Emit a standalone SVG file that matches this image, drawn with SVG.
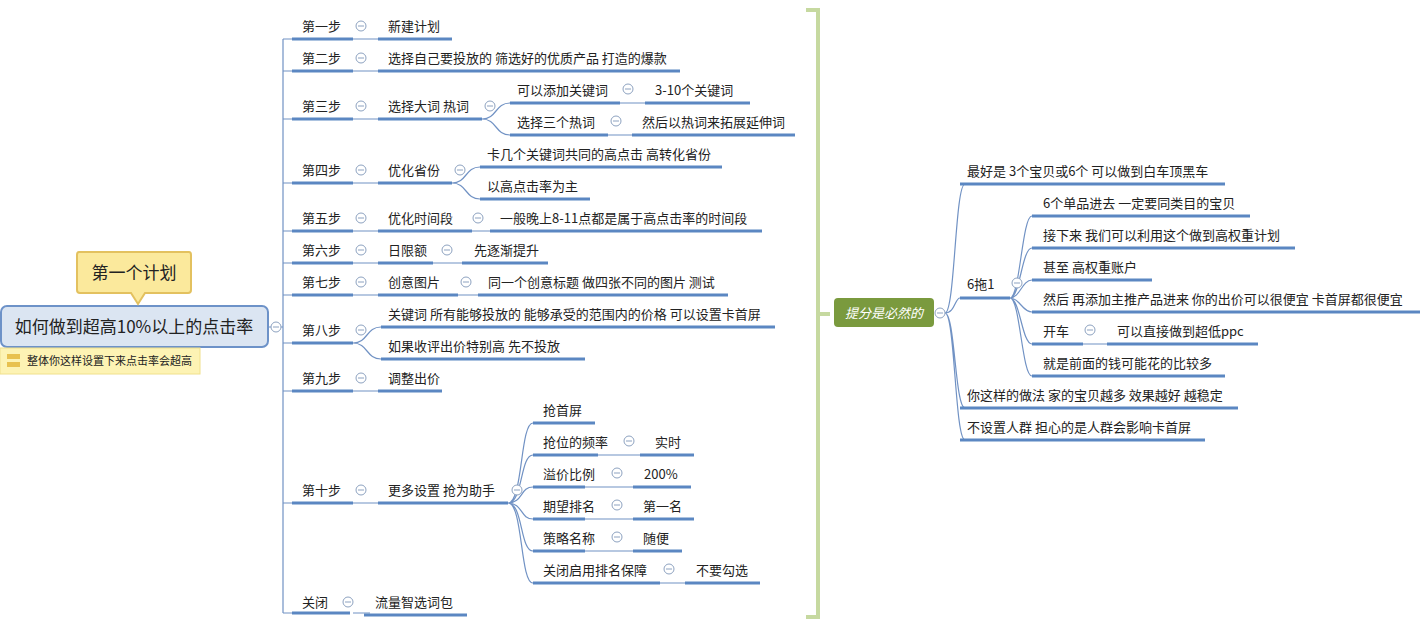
<svg xmlns="http://www.w3.org/2000/svg" width="1427" height="627" viewBox="0 0 1427 627">
<style>
text{font-family:"Noto Sans CJK SC","Noto Sans",sans-serif;font-size:13px;fill:#222}
.u{stroke:#5b87c2;stroke-width:3;fill:none}
.c{stroke:#7192c4;stroke-width:1.2;fill:none}
</style>
<defs>
<g id="col"><circle r="5" cx="0" cy="0" fill="#fff" stroke="#8da2c0" stroke-width="1"/><line x1="-3" y1="0" x2="3" y2="0" stroke="#8da2c0" stroke-width="1"/></g>
</defs>
<rect width="1427" height="627" fill="#fff"/>
<g id="connectors">
<path class="c" d="M283 39V613M269 327H283"/>
<path class="c" d="M283 39H292M283 71H292M283 119H292M283 183H292M283 231H292M283 263H292M283 295H292M283 343H292M283 391H292M283 503H292M283 613H292"/>
<path class="c" d="M353 39H378M353 71H378M353 119H378M353 183H378M353 231H378M353 263H378M353 295H378M353 391H378M353 503H378M353 613H370"/>
<path class="c" d="M482 119C497 119 495 103 510 103M482 119C497 119 495 135 510 135M620 103H645M608 135H632"/>
<path class="c" d="M452 183C467 183 465 167 480 167M452 183C467 183 465 199 480 199M472 231H490M433 263H462M458 295H478"/>
<path class="c" d="M353 343C368 343 366 327 381 327M353 343C368 343 366 359 381 359"/>
<path class="c" d="M508 503C523 503 520 423 533 423M508 503C523 503 520 455 533 455M508 503C523 503 520 487 533 487M508 503C523 503 520 519 533 519M508 503C523 503 520 551 533 551M508 503C523 503 520 583 533 583"/>
<path class="c" d="M598 455H640M585 487H633M585 519H633M585 551H633M660 583H685"/>
<path class="c" d="M945 313C955 313 955 184 965 184M945 313C955 313 955 298 960 298M945 313C955 313 955 408 965 408M945 313C955 313 955 440 965 440"/>
<path class="c" d="M1010 298C1020 298 1022 216 1032 216M1010 298C1020 298 1022 248 1032 248M1010 298C1020 298 1022 280 1032 280M1010 298C1020 298 1022 312 1032 312M1010 298C1020 298 1022 344 1032 344M1010 298C1020 298 1022 376 1032 376M1083 344H1107"/>
</g>
<g id="bracket"><path d="M806 10H818V617H806M818 314H830" stroke="#c6d9a0" stroke-width="4" fill="none"/></g>
<g id="root">
<rect x="1" y="306" width="267" height="41" rx="6" fill="#dbe5f2" stroke="#6d92c8" stroke-width="2"/>
<text x="134" y="333" text-anchor="middle" style="font-size:17px">如何做到超高10%以上的点击率</text>
<use href="#col" x="276" y="327"/>
</g>
<g id="callout">
<path d="M79 252H189Q191 252 191 255V290Q191 293 188 293H145L138 304L131 293H80Q77 293 77 290V255Q77 252 79 252Z" fill="#fbe99c" stroke="#e3c15f" stroke-width="2"/>
<text x="134" y="279" text-anchor="middle" style="font-size:17px">第一个计划</text>
</g>
<g id="note">
<rect x="0" y="348" width="200" height="26" fill="#fdf3b4" stroke="#f0e08c"/>
<rect x="7" y="354" width="13" height="5" fill="#e8c14f"/><rect x="7" y="362" width="13" height="5" fill="#e8c14f"/>
<text x="27" y="365" style="font-size:11px">整体你这样设置下来点击率会超高</text>
</g>
<g id="steps">
<path class="u" d="M292 39H353M292 71H353M292 119H353M292 183H353M292 231H353M292 263H353M292 295H353M292 343H353M292 391H353M292 503H353M292 613H350"/>
<text x="302" y="31">第一步</text><text x="302" y="63">第二步</text><text x="302" y="111">第三步</text><text x="302" y="175">第四步</text><text x="302" y="223">第五步</text><text x="302" y="255">第六步</text><text x="302" y="287">第七步</text><text x="302" y="335">第八步</text><text x="302" y="383">第九步</text><text x="302" y="495">第十步</text><text x="302" y="607">关闭</text>
<use href="#col" x="361" y="26"/><use href="#col" x="361" y="58"/><use href="#col" x="361" y="106"/><use href="#col" x="361" y="170"/><use href="#col" x="361" y="218"/><use href="#col" x="361" y="250"/><use href="#col" x="361" y="282"/><use href="#col" x="361" y="330"/><use href="#col" x="361" y="378"/><use href="#col" x="361" y="490"/><use href="#col" x="348" y="602"/>
</g>
<g id="level2">
<path class="u" d="M378 39H452M378 71H680M378 119H482M378 183H452M378 231H472M378 263H433M378 295H458M381 327H775M381 359H585M378 391H442M378 503H508M364 615H467"/>
<text x="388" y="31">新建计划</text>
<text x="388" y="63">选择自己要投放的 筛选好的优质产品 打造的爆款</text>
<text x="388" y="111">选择大词 热词</text>
<text x="388" y="175">优化省份</text>
<text x="388" y="223">优化时间段</text>
<text x="388" y="255">日限额</text>
<text x="388" y="287">创意图片</text>
<text x="388" y="319">关键词 所有能够投放的 能够承受的范围内的价格 可以设置卡首屏</text>
<text x="388" y="351">如果收评出价特别高 先不投放</text>
<text x="388" y="383">调整出价</text>
<text x="388" y="495">更多设置 抢为助手</text>
<text x="375" y="607">流量智选词包</text>
<use href="#col" x="490" y="106"/><use href="#col" x="460" y="170"/><use href="#col" x="478" y="218"/><use href="#col" x="447" y="250"/><use href="#col" x="466" y="282"/><use href="#col" x="517" y="490"/>
</g>
<g id="level3">
<path class="u" d="M510 103H620M645 103H750M510 135H608M632 135H795M480 167H722M480 199H590M490 231H762M462 263H548M478 295H728"/>
<text x="517" y="95">可以添加关键词</text><text x="655" y="95">3-10个关键词</text>
<text x="517" y="127">选择三个热词</text><text x="642" y="127">然后以热词来拓展延伸词</text>
<text x="487" y="159">卡几个关键词共同的高点击 高转化省份</text>
<text x="487" y="191">以高点击率为主</text>
<text x="500" y="223">一般晚上8-11点都是属于高点击率的时间段</text>
<text x="474" y="255">先逐渐提升</text>
<text x="488" y="287">同一个创意标题 做四张不同的图片 测试</text>
<use href="#col" x="628" y="89"/><use href="#col" x="616" y="121"/>
<path class="u" d="M533 423H595M533 455H598M640 455H694M533 487H585M633 487H691M533 519H585M633 519H694M533 551H585M633 551H682M533 583H660M685 583H760"/>
<text x="543" y="415">抢首屏</text>
<text x="543" y="447">抢位的频率</text><text x="655" y="447">实时</text>
<text x="543" y="479">溢价比例</text><text x="644" y="479">200%</text>
<text x="543" y="511">期望排名</text><text x="643" y="511">第一名</text>
<text x="543" y="543">策略名称</text><text x="643" y="543">随便</text>
<text x="543" y="575">关闭启用排名保障</text><text x="696" y="575">不要勾选</text>
<use href="#col" x="629" y="441"/><use href="#col" x="617" y="473"/><use href="#col" x="617" y="505"/><use href="#col" x="617" y="537"/><use href="#col" x="669" y="569"/>
</g>
<g id="right">
<rect x="834" y="298" width="100" height="29" rx="4" fill="#7a9a3e"/>
<text x="884" y="318" text-anchor="middle" style="fill:#fff;font-style:italic">提分是必然的</text>
<use href="#col" x="940" y="313"/><use href="#col" x="1017" y="283"/><use href="#col" x="1090" y="330"/>
<path class="u" d="M960 184H1225M960 298H1010M960 408H1238M960 440H1205M1032 216H1250M1032 248H1295M1032 280H1152M1032 312H1420M1032 344H1083M1107 344H1258M1032 376H1225"/>
<text x="967" y="176">最好是 3个宝贝或6个 可以做到白车顶黑车</text>
<text x="967" y="289">6拖1</text>
<text x="967" y="400">你这样的做法 家的宝贝越多 效果越好 越稳定</text>
<text x="967" y="432">不设置人群 担心的是人群会影响卡首屏</text>
<text x="1043" y="208">6个单品进去 一定要同类目的宝贝</text>
<text x="1043" y="240">接下来 我们可以利用这个做到高权重计划</text>
<text x="1043" y="272">甚至 高权重账户</text>
<text x="1043" y="304">然后 再添加主推产品进来 你的出价可以很便宜 卡首屏都很便宜</text>
<text x="1043" y="336">开车</text><text x="1117" y="336">可以直接做到超低ppc</text>
<text x="1043" y="368">就是前面的钱可能花的比较多</text>
</g>
</svg>
